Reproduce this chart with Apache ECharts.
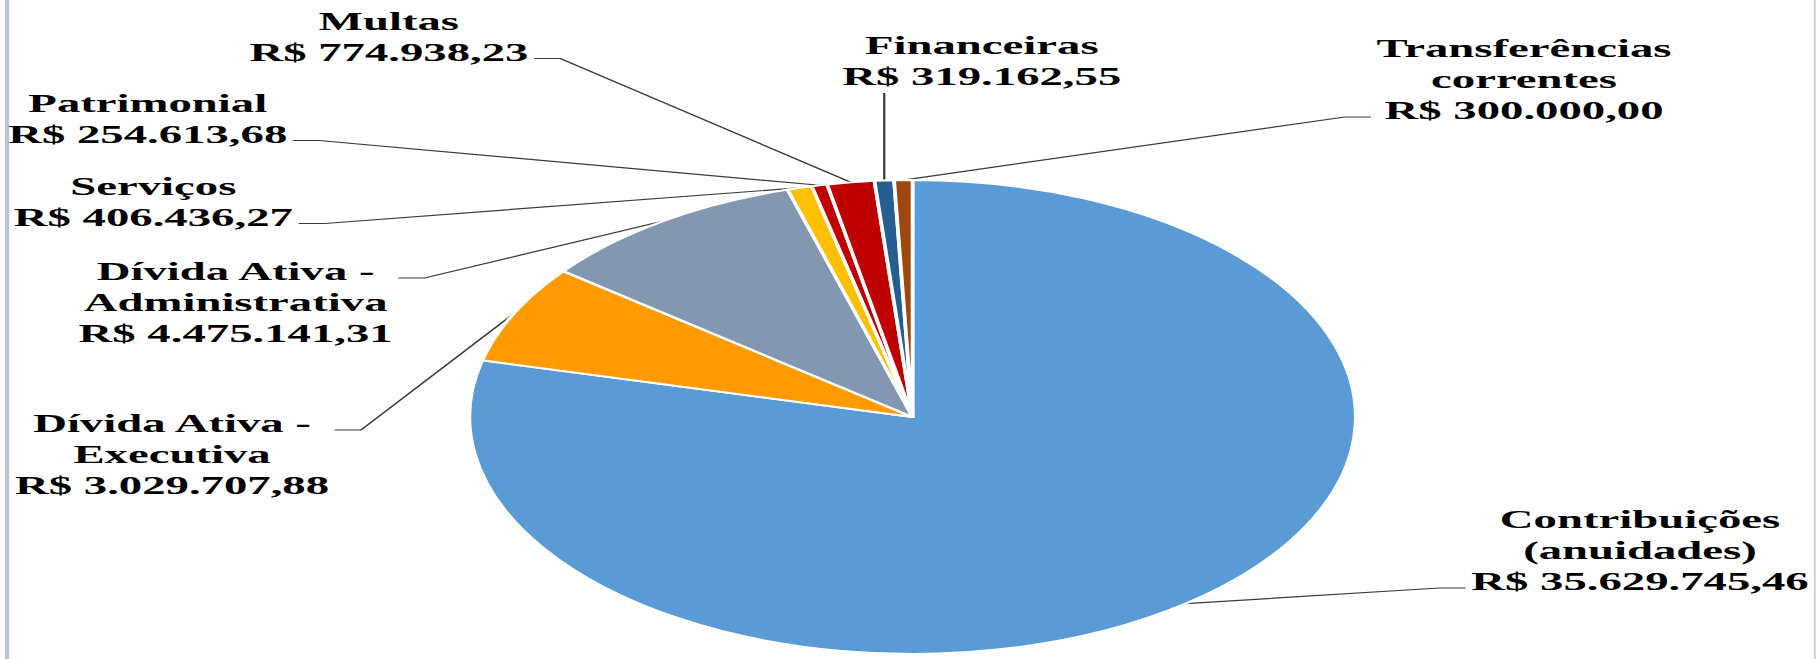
<!DOCTYPE html>
<html>
<head>
<meta charset="utf-8">
<script src="https://cdn.jsdelivr.net/npm/echarts@6/dist/echarts.min.js"></script>
<style>
    html, body { margin: 0; padding: 0; background: #fff; overflow: hidden; }
    /* o gráfico original está esticado na horizontal: desenha em 972px e estica */
    #receitas { width: 972px; height: 659px; transform: scaleX(1.87); transform-origin: 0 0; }
</style>
</head>
<body>
<div id="receitas"></div>
<script>
const categorias = [
    'Contribuições\n(anuidades)',
    'Dívida Ativa -\nExecutiva',
    'Dívida Ativa -\nAdministrativa',
    'Serviços',
    'Patrimonial',
    'Multas',
    'Financeiras',
    'Transferências\ncorrentes'
];
const valores = [35629745.46, 3029707.88, 4475141.31, 406436.27, 254613.68, 774938.23, 319162.55, 300000.00];
const cores = ['#5B9BD5', '#FF9A00', '#8497B0', '#FFC000', '#C00000', '#C00000', '#255E91', '#9E480E'];

// posição dos rótulos (centro do bloco) e onde a linha encosta no texto
const posRotulos = [[877, 551], [92, 455], [126, 303], [82, 202], [79, 119], [208, 37], [525, 61], [815, 80]];
const ligacao = [['left', 2], ['right', 0], ['right', 0], ['right', 1], ['right', 1], ['right', 1], ['bottom', 1], ['left', 2]];
const ALT_LINHA = 31;

function reais(v) {
    const partes = v.toFixed(2).split('.');
    return 'R$ ' + partes[0].replace(/\B(?=(\d{3})+(?!\d))/g, '.') + ',' + partes[1];
}

document.addEventListener('DOMContentLoaded', function () {
    const chart = echarts.init(document.getElementById('receitas'), null, { renderer: 'svg' });

    const dados = categorias.map(function (c, i) {
        return { name: c, value: valores[i], itemStyle: { color: cores[i] } };
    });

    const option = {
        animation: false,
        backgroundColor: '#fff',
        graphic: [
            { type: 'rect', shape: { x: 2.7, y: 0, width: 2.2, height: 659 }, style: { fill: '#B4C4DC' } },
            { type: 'rect', shape: { x: 970, y: 0, width: 1, height: 659 }, style: { fill: '#C5D0E2' } }
        ],
        series: [
            {
                type: 'pie',
                center: [488, 417],
                radius: 237,
                startAngle: 90,
                clockwise: true,
                avoidLabelOverlap: false,
                emphasis: { disabled: true },
                itemStyle: { borderColor: '#fff', borderWidth: 2 },
                label: {
                    show: true,
                    position: 'outside',
                    formatter: function (p) { return p.name + '\n' + reais(p.value); },
                    fontFamily: 'Liberation Serif',
                    fontWeight: 'bold',
                    fontSize: 25,
                    lineHeight: ALT_LINHA,
                    color: '#000',
                    align: 'center'
                },
                labelLine: {
                    show: true,
                    lineStyle: { color: '#3a3a3a', width: 1.2 }
                },
                labelLayout: function (params) {
                    const i = params.dataIndex;
                    const p = posRotulos[i];
                    const w = params.labelRect.width;
                    const h = params.labelRect.height;
                    const esq = p[0] - w / 2;
                    const topo = p[1] - h / 2;
                    const fatia = params.labelLinePoints ? params.labelLinePoints[0] : null;
                    const lado = ligacao[i][0];
                    const linha = ligacao[i][1];
                    let pts;
                    if (fatia) {
                        if (lado === 'bottom') {
                            const yb = topo + h + 1;
                            pts = [fatia, [fatia[0], yb], [fatia[0], yb]];
                        } else {
                            const ya = topo + ALT_LINHA * (linha + 0.5) + 6;
                            const xa = lado === 'right' ? esq + w + 3 : esq - 3;
                            const xb = lado === 'right' ? xa + 14 : xa - 14;
                            pts = [fatia, [xb, ya], [xa, ya]];
                        }
                    }
                    return {
                        x: p[0],
                        y: p[1],
                        align: 'center',
                        verticalAlign: 'middle',
                        labelLinePoints: pts
                    };
                },
                data: dados
            }
        ]
    };
    chart.setOption(option);
});
</script>
</body>
</html>
